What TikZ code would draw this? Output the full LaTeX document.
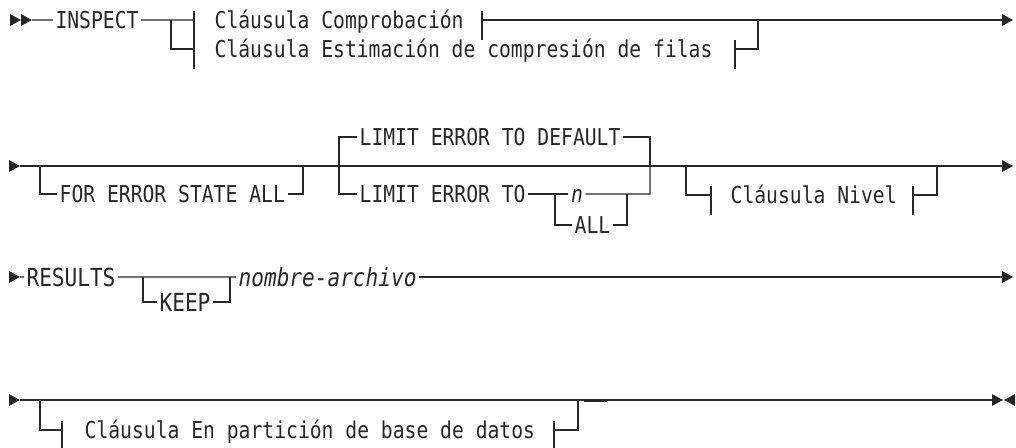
\documentclass[tikz,border=0pt]{standalone}
\usepackage{fontspec}
\newfontfamily\synfont{DejaVu Sans Mono}
\usetikzlibrary{calc}
\newcommand{\rtri}[1]{\fill[black!85] (#1) -- ++(-11,6) -- ++(0,-12) -- cycle;}
\newcommand{\ltri}[1]{\fill[black!85] (#1) -- ++(11,6) -- ++(0,-12) -- cycle;}
\newcommand{\tick}[1]{\draw[rail] ($(#1)+(0,9)$) -- ($(#1)+(0,-20)$);}
\begin{document}
\begin{tikzpicture}[x=0.025cm,y=0.025cm,line width=.8pt,
  rail/.style={draw=black!85},
  kw/.style={inner xsep=1.5pt,inner ysep=0pt,text height=10.2pt,text depth=0pt,text=black!85,
    transform shape,yscale=1.18,font=\synfont\fontsize{14}{16}\selectfont},
  var/.style={kw,font=\synfont\itshape\fontsize{14}{16}\selectfont},
  kwb/.style={kw,text height=10.9pt,font=\synfont\fontsize{15}{18}\selectfont},
  varb/.style={kwb,font=\synfont\itshape\fontsize{15}{18}\selectfont}]
\useasboundingbox (0,0) rectangle (1016,-447);
% row 1
\rtri{21,-20} \rtri{32,-20}
\coordinate (r1) at (32,-20); \coordinate (j1) at (171,-20); \coordinate (t1) at (194,-20); \coordinate (t1b) at (194,-49);
\coordinate (t2) at (482,-20); \coordinate (t2b) at (735,-49); \coordinate (m1) at (758,-20); \coordinate (e1) at (1002,-20);
\node[kw] (inspect) at (97,-20) {INSPECT};
\node[kw,anchor=west] (comp) at (212,-20) {Cláusula Comprobación};
\node[kw,anchor=west] (estim) at (212,-49) {Cláusula Estimación de compresión de filas};
\draw[rail] (r1) -- (inspect) -- (t1); \draw[rail] (j1) |- (t1b);
\tick{t1} \tick{t1b} \tick{t2} \tick{t2b}
\draw[rail] (t2) -- (e1); \draw[rail] (t2b) -| (m1); \rtri{1013,-20}
% row 2
\rtri{20,-166}
\coordinate (r2) at (20,-166); \coordinate (a2) at (40,-166); \coordinate (b2) at (303,-166); \coordinate (c2) at (339,-166);
\coordinate (d2) at (650,-166); \coordinate (f2) at (555,-194); \coordinate (g2) at (627,-194);
\coordinate (h2) at (686,-166); \coordinate (k2) at (937,-166); \coordinate (tn1) at (711,-195); \coordinate (tn2) at (913,-195);
\coordinate (e2) at (1002,-166);
\node[kw,anchor=west] (fesa) at (57,-194) {FOR ERROR STATE ALL};
\node[kw,anchor=west] (limdef) at (357,-137) {LIMIT ERROR TO DEFAULT};
\node[kw,anchor=west] (limto) at (357,-194) {LIMIT ERROR TO};
\node[var] (num) at (577,-194) {n};
\node[kw,anchor=west] (all) at (572,-225) {ALL};
\node[kw,anchor=west] (nivel) at (728,-195) {Cláusula Nivel};
\draw[rail] (r2) -- (e2); \rtri{1013,-166}
\draw[rail] (a2) |- (fesa); \draw[rail] (fesa) -| (b2);
\draw[rail] (c2) |- (limdef); \draw[rail] (limdef) -| (d2);
\draw[rail] (c2) |- (limto); \draw[rail] (limto) -- (num); \draw[rail] (num) -- (g2) -| (d2);
\draw[rail] (f2) |- (all); \draw[rail] (all) -| (g2);
\draw[rail] (h2) |- (tn1); \draw[rail] (tn2) -| (k2); \tick{tn1} \tick{tn2}
% row 3
\rtri{20,-277}
\coordinate (r3) at (20,-277); \coordinate (a3) at (143,-277); \coordinate (b3) at (230,-277); \coordinate (e3) at (1002,-277);
\node[kwb] (results) at (71,-277) {RESULTS};
\node[kwb] (keep) at (185,-302) {KEEP};
\node[varb,anchor=west] (file) at (236,-277) {nombre-archivo};
\draw[rail] (r3) -- (results) -- (file); \draw[rail] (a3) |- (keep); \draw[rail] (keep) -| (b3);
\draw[rail] (file) -- (e3); \rtri{1013,-277}
% row 4
\rtri{20,-400}
\coordinate (r4) at (20,-400); \coordinate (a4) at (40,-400); \coordinate (tp1) at (62,-430); \coordinate (tp2) at (554,-430);
\coordinate (b4) at (578,-400); \coordinate (e4) at (992,-400);
\node[kw,anchor=west] (part) at (82,-430) {Cláusula En partición de base de datos};
\draw[rail] (r4) -- (e4); \rtri{1003,-400} \ltri{1004,-400}
\draw[rail] (a4) |- (tp1); \draw[rail] (tp2) -| (b4); \tick{tp1} \tick{tp2}
\draw[rail,line width=1.5pt] (584,-400.5) -- (607,-400.5);
\end{tikzpicture}
\end{document}
